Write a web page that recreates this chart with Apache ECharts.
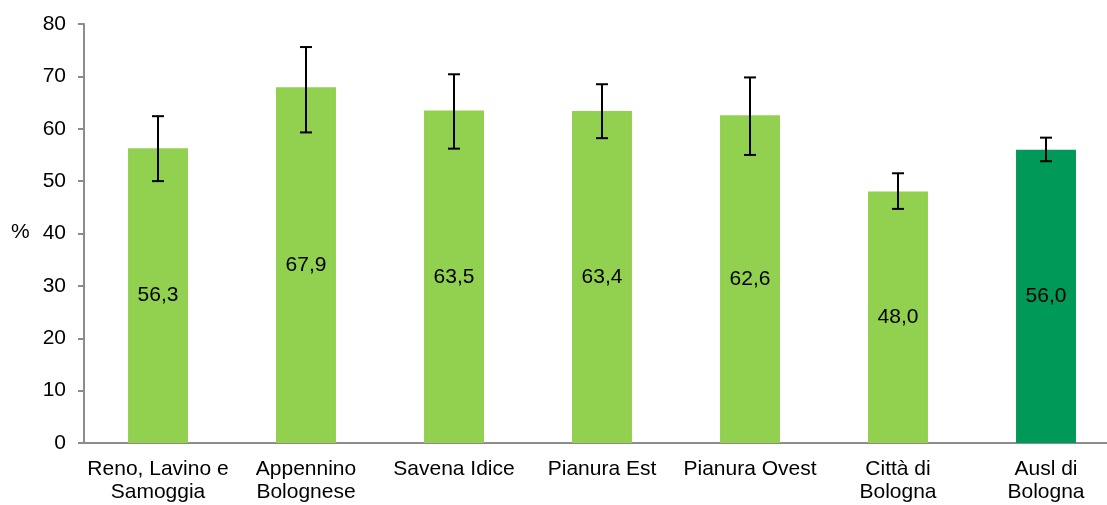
<!DOCTYPE html>
<html><head><meta charset="utf-8">
<script src="https://cdn.jsdelivr.net/npm/echarts@6/dist/echarts.min.js"></script>
<style>html,body{margin:0;padding:0;background:#fff;overflow:hidden}#c{width:1120px;height:505px}</style>
</head><body><div id="c"></div>
<script>
const categories = ['Reno, Lavino e\nSamoggia','Appennino\nBolognese','Savena Idice','Pianura Est','Pianura Ovest','Città di\nBologna','Ausl di\nBologna'];
const values = [56.3, 67.9, 63.5, 63.4, 62.6, 48.0, 56.0];
const ciLow = [50.0, 59.3, 56.2, 58.2, 55.0, 44.7, 53.8];
const ciHigh = [62.4, 75.6, 70.4, 68.5, 69.8, 51.5, 58.3];
const yTicks = {min: 0, max: 80, interval: 10};
const light = '#92D050', dark = '#009957';

const chart = echarts.init(document.getElementById('c'));
const font = 'Liberation Sans, Arial, sans-serif';
chart.setOption({
  animation: false,
  grid: {left: 84, right: 0, top: 24, height: 419, containLabel: false},
  graphic: [{type: 'text', left: 11, top: 222, style: {text: '%', font: '21px ' + font, fill: '#000'}}],
  xAxis: {
    type: 'category', data: categories,
    axisLine: {lineStyle: {color: '#8c8c8c', width: 2}},
    axisTick: {show: false},
    axisLabel: {color: '#000', fontSize: 21, fontFamily: font, lineHeight: 23, margin: 15, interval: 0}
  },
  yAxis: {
    type: 'value', min: yTicks.min, max: yTicks.max, interval: yTicks.interval,
    splitLine: {show: false},
    axisLine: {show: true, lineStyle: {color: '#8c8c8c', width: 2}},
    axisTick: {show: true, length: 6, lineStyle: {color: '#8c8c8c', width: 2}},
    axisLabel: {color: '#000', fontSize: 21, fontFamily: font, margin: 18}
  },
  series: [{
    type: 'bar', barWidth: '40.5%',
    data: values.map((v, i) => ({value: v, itemStyle: {color: i === values.length - 1 ? dark : light}})),
    label: {show: true, position: 'inside', color: '#000', fontSize: 21, fontFamily: font,
      formatter: p => p.value.toFixed(1).replace('.', ',')}
  }, {
    type: 'custom',
    data: categories.map((c, i) => [i, ciLow[i], ciHigh[i]]),
    renderItem: function (params, api) {
      const lo = api.coord([api.value(0), api.value(1)]);
      const hi = api.coord([api.value(0), api.value(2)]);
      const hw = 6;
      const st = {stroke: '#000', lineWidth: 2};
      return {type: 'group', children: [
        {type: 'line', shape: {x1: lo[0], y1: lo[1], x2: hi[0], y2: hi[1]}, style: st},
        {type: 'line', shape: {x1: lo[0] - hw, y1: lo[1], x2: lo[0] + hw, y2: lo[1]}, style: st},
        {type: 'line', shape: {x1: hi[0] - hw, y1: hi[1], x2: hi[0] + hw, y2: hi[1]}, style: st}
      ]};
    },
    z: 10
  }]
});
</script></body></html>
